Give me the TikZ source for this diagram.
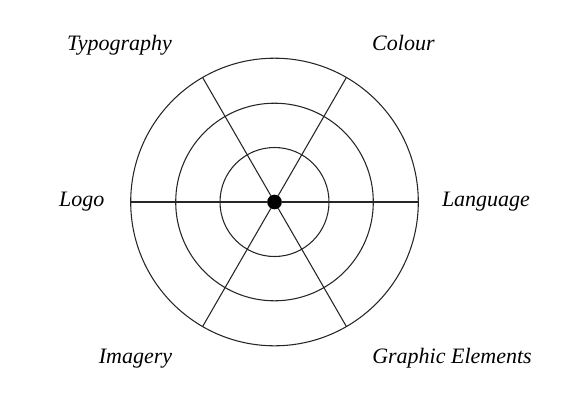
\documentclass[tikz,border=0pt]{standalone}
\usepackage{fontspec}
\setmainfont{Liberation Serif}
\usetikzlibrary{positioning}
\usetikzlibrary{arrows}

\begin{document}
\begin{tikzpicture}[-,x=0.75pt,y=-0.75pt,line width=0.8pt,
                ring/.style={circle,draw=black!85,inner sep=0pt,outer sep=0pt},
                facet/.style={anchor=base,font=\fontsize{16.5}{19}\selectfont\itshape}]

  \useasboundingbox (0,0) rectangle (577,408);

  \node[circle,fill=black,inner sep=0pt,outer sep=0pt,minimum size=11pt] (hub) at (274.5,202) {};
  \node[ring,minimum size=81.75pt] (ring1) at (hub) {};
  \node[ring,minimum size=148.2pt] (ring2) at (hub) {};
  \node[ring,minimum size=215.7pt] (ring3) at (hub) {};

  \foreach \a in {0,60,...,300}
    \draw[black!85] (hub) -- (ring3.\a);

  \node[facet] (typo) at (119.5,50) {Typography};
  \node[facet] (colour) at (403.4,50) {Colour};
  \node[facet] (logo) at (81.7,206.5) {Logo};
  \node[facet] (lang) at (486,206.5) {Language};
  \node[facet] (imagery) at (135.5,363) {Imagery};
  \node[facet] (graphic) at (452,363) {Graphic Elements};

\end{tikzpicture}
\end{document}
